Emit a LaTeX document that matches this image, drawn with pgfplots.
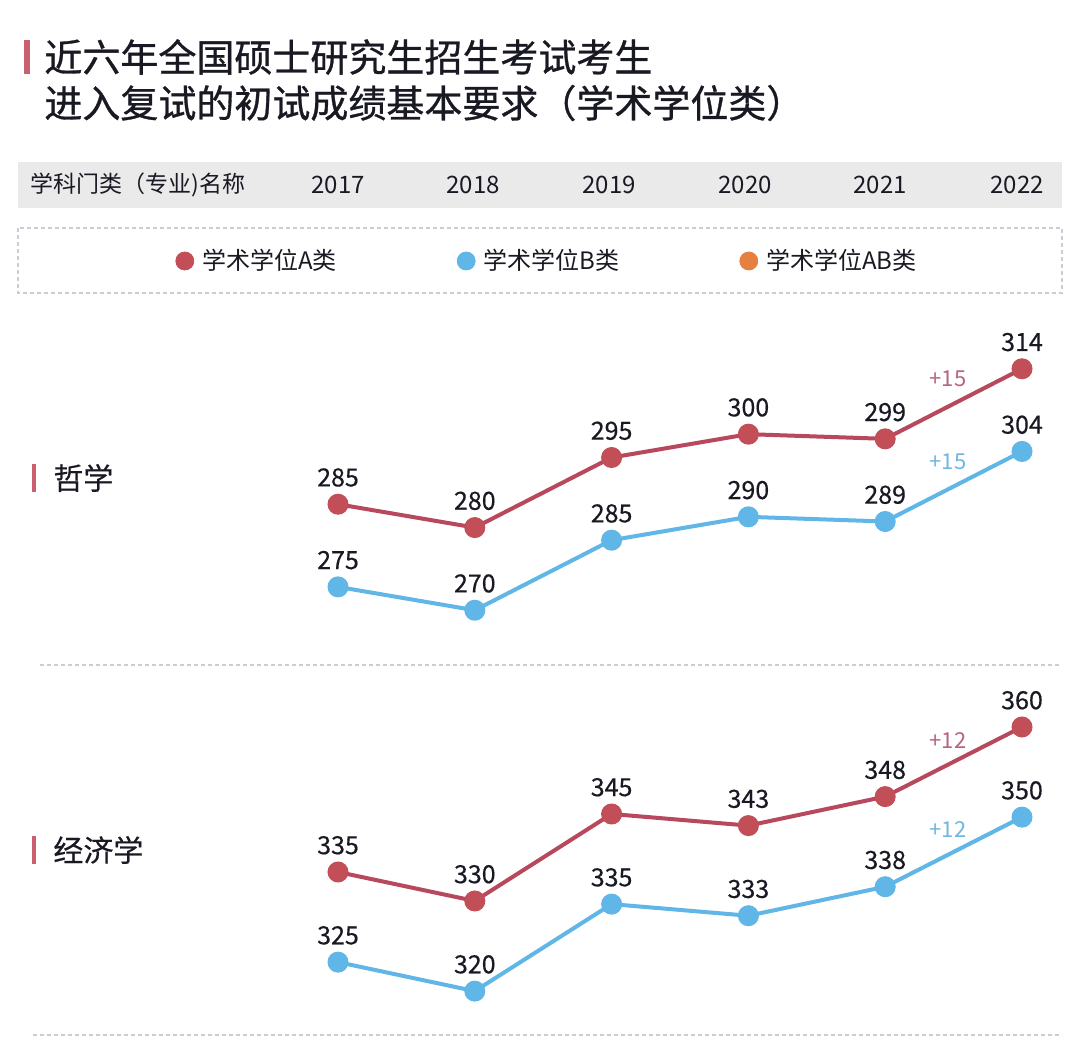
\documentclass[border=0pt]{standalone}
\usepackage{pgfplots}
\pgfplotsset{compat=1.18}
\usepackage{fontspec}
\setmainfont{Noto Sans CJK SC}
\newfontfamily\titlefont[FakeBold=0.8]{Noto Sans CJK SC}
\newfontfamily\midfont[FakeBold=0.4]{Noto Sans CJK SC}
\definecolor{cA}{RGB}{194,78,88}
\definecolor{cAline}{RGB}{184,72,92}
\definecolor{cB}{RGB}{96,182,230}
\definecolor{cAB}{RGB}{230,128,64}
\definecolor{cAl}{RGB}{184,100,126}
\definecolor{cBl}{RGB}{112,182,224}
\definecolor{barc}{RGB}{200,96,112}
\definecolor{hdr}{RGB}{234,234,234}
\definecolor{dashc}{RGB}{204,204,216}
\definecolor{txt}{RGB}{25,25,35}

\pgfplotsset{
  panel/.style={
    hide axis, scale only axis, width=342pt, clip=false,
    xmin=2017, xmax=2022, anchor=south west,
    /pgf/number format/assume math mode=true,
    nodes near coords,
    every node near coord/.append style={font=\midfont\fontsize{12.5}{14}\selectfont, text=txt, inner sep=0pt, yshift=8.5pt},
  },
  serA/.style={cAline, line width=2pt, mark=*, mark size=5pt, mark options={fill=cA, draw=cA, line width=0.5pt}},
  serB/.style={cB, line width=2pt, mark=*, mark size=5pt, mark options={fill=cB, draw=cB, line width=0.5pt}},
}

\begin{document}
\begin{tikzpicture}
\begin{scope}[x=0.5pt,y=-0.5pt]
% canvas
\fill[white] (0,0) rectangle (1080,1047);

% title
\fill[barc] (24,40) rectangle (30,74);
\node[anchor=west, inner sep=0pt, text=txt, font=\titlefont\fontsize{19}{23}\selectfont] at (44,57) {近六年全国硕士研究生招生考试考生};
\node[anchor=west, inner sep=0pt, text=txt, font=\titlefont\fontsize{19}{23}\selectfont] at (44,103) {进入复试的初试成绩基本要求（学术学位类）};

% header row
\fill[hdr] (18,162) rectangle (1062,208);
\node[anchor=west, inner sep=0pt, text=txt, font=\fontsize{11.5}{14}\selectfont] at (30,185) {学科门类（专业)名称};
\foreach \yr/\xx in {2017/338,2018/473,2019/609,2020/745,2021/880,2022/1017}
  \node[inner sep=0pt, text=txt, font=\fontsize{12}{14}\selectfont] at (\xx,185) {\yr};

% legend box
\draw[dashc, line width=0.9pt, dash pattern=on 2pt off 1.5pt] (18,228) rectangle (1062,293);

% panel labels
\fill[barc] (32,464) rectangle (36,492);
\node[anchor=west, inner sep=0pt, text=txt, font=\midfont\fontsize{15}{18}\selectfont] at (53,478) {哲学};
\fill[barc] (32,836) rectangle (36,864);
\node[anchor=west, inner sep=0pt, text=txt, font=\midfont\fontsize{15}{18}\selectfont] at (53,850) {经济学};

% separators
\draw[dashc, line width=1.2pt, dash pattern=on 2pt off 1.5pt] (40,665) -- (1062,665);
\draw[dashc, line width=1.2pt, dash pattern=on 2pt off 1.5pt] (33,1035) -- (1062,1035);

% change annotations
\node[inner sep=0pt, text=cAl, font=\fontsize{11}{13}\selectfont] at (948,379) {+15};
\node[inner sep=0pt, text=cBl, font=\fontsize{11}{13}\selectfont] at (948,462) {+15};
\node[inner sep=0pt, text=cAl, font=\fontsize{11}{13}\selectfont] at (948,741) {+12};
\node[inner sep=0pt, text=cBl, font=\fontsize{11}{13}\selectfont] at (948,830) {+12};
\end{scope}

% legend (pgfplots)
\begin{axis}[hide axis, scale only axis, width=10pt, height=10pt,
  xmin=0, xmax=1, ymin=0, ymax=1, at={(273.5pt,-130.5pt)}, anchor=center,
  legend columns=3,
  legend image code/.code={\fill[#1] (0pt,0pt) circle[radius=4.5pt];},
  legend style={at={(0.5,0.5)}, anchor=center, draw=none, fill=none,
    font=\fontsize{12}{14}\selectfont, text=txt,
    nodes={inner xsep=1pt, inner ysep=0pt},
    /tikz/every odd column/.append style={column sep=3pt},
    /tikz/every even column/.append style={column sep=59pt}}]
\addlegendimage{cA}
\addlegendentry{学术学位A类}
\addlegendimage{cB}
\addlegendentry{学术学位B类}
\addlegendimage{cAB}
\addlegendentry{学术学位AB类}
\end{axis}

% Panel 1: 哲学
\begin{axis}[panel, at={(169pt,-322pt)}, height=155pt, ymin=255.07, ymax=321.45]
\addplot[serA] coordinates {(2017,285) (2018,280) (2019,295) (2020,300) (2021,299) (2022,314)};
\end{axis}
\begin{axis}[panel, at={(169pt,-322pt)}, height=155pt, ymin=262.77, ymax=329.15]
\addplot[serB] coordinates {(2017,275) (2018,270) (2019,285) (2020,290) (2021,289) (2022,304)};
\end{axis}

% Panel 2: 经济学
\begin{axis}[panel, at={(169pt,-516pt)}, height=165pt, ymin=307.41, ymax=364.31]
\addplot[serA] coordinates {(2017,335) (2018,330) (2019,345) (2020,343) (2021,348) (2022,360)};
\end{axis}
\begin{axis}[panel, at={(169pt,-516pt)}, height=165pt, ymin=312.95, ymax=369.85]
\addplot[serB] coordinates {(2017,325) (2018,320) (2019,335) (2020,333) (2021,338) (2022,350)};
\end{axis}
\end{tikzpicture}
\end{document}
